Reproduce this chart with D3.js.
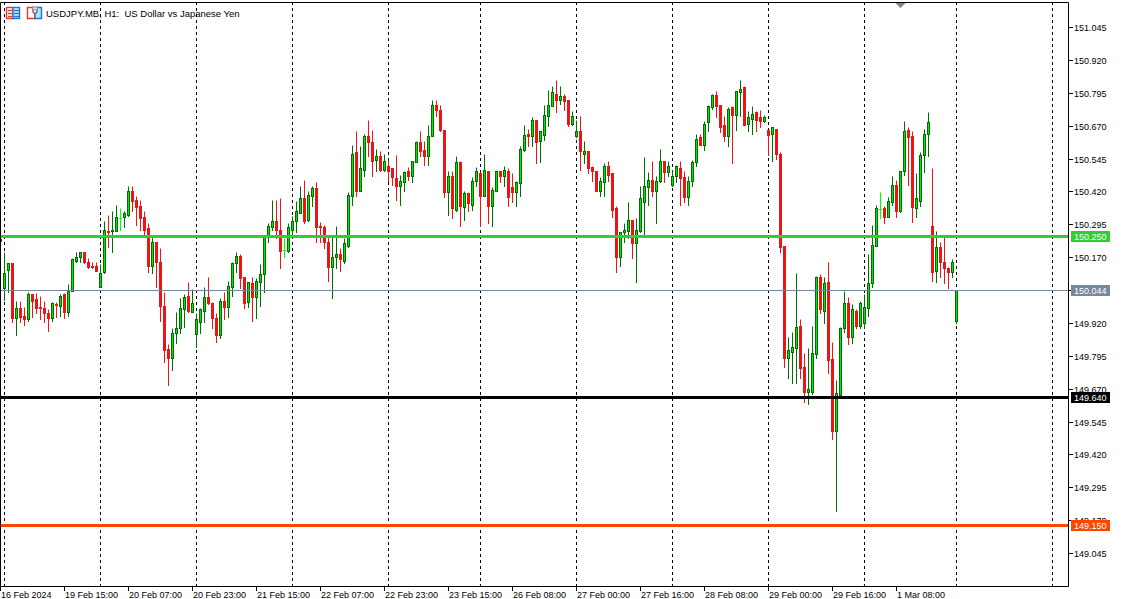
<!DOCTYPE html>
<html>
<head>
<meta charset="utf-8">
<title>USDJPY.MB H1</title>
<script src="https://cdn.jsdelivr.net/npm/d3@7/dist/d3.min.js"></script>
<style>
html, body { margin: 0; padding: 0; background: #fff; overflow: hidden; }
svg { display: block; }
text { font-family: "Liberation Sans", sans-serif; font-size: 9px; fill: #000; white-space: pre; }
text.title { font-size: 9.5px; }
</style>
</head>
<body>
<div id="chart"></div>
<script>
// hourly bars, one every 4px on the chart
const opens = [
150.231,150.051,150.120,150.148,149.938,149.977,149.948,149.933,150.028,150.009,149.982,149.978,
149.956,149.938,149.990,149.986,150.028,149.963,150.043,150.157,150.169,150.191,150.153,150.138,
150.138,150.058,150.115,150.271,150.268,150.271,150.319,150.321,150.332,150.423,150.389,150.363,
150.321,150.279,150.138,150.229,150.153,149.986,149.819,149.785,149.880,149.899,149.971,150.024,
149.963,149.876,149.925,149.967,150.020,149.994,149.940,149.872,150.005,149.982,150.058,150.146,
150.176,150.093,149.998,150.070,150.017,150.077,150.104,150.248,150.286,150.306,150.275,150.198,
150.195,150.275,150.309,150.336,150.393,150.313,150.401,150.431,150.290,150.283,150.229,150.131,
150.169,150.180,150.157,150.214,150.404,150.568,150.423,150.503,150.629,150.606,150.541,150.553,
150.503,150.515,150.507,150.469,150.439,150.454,150.496,150.480,150.530,150.606,150.579,150.553,
150.629,150.747,150.731,150.655,150.416,150.480,150.351,150.530,150.359,150.412,150.370,150.458,
150.488,150.401,150.499,150.366,150.423,150.496,150.477,150.499,150.435,150.416,150.450,150.579,
150.640,150.629,150.690,150.610,150.636,150.705,150.743,150.792,150.766,150.781,150.766,150.678,
150.629,150.651,150.564,150.572,150.511,150.499,150.420,150.454,150.518,150.488,150.355,150.169,
150.264,150.271,150.313,150.222,150.271,150.378,150.435,150.465,150.420,150.458,150.534,150.492,
150.446,150.480,150.507,150.473,150.397,150.461,150.530,150.625,150.598,150.682,150.739,150.788,
150.747,150.671,150.632,150.739,150.712,150.796,150.815,150.678,150.697,150.720,150.701,150.686,
150.655,150.640,150.659,150.564,150.214,149.785,149.811,149.823,149.910,149.754,149.659,149.659,
149.800,150.096,149.967,150.074,149.781,149.507,149.644,149.899,149.997,149.868,149.967,149.910,
149.918,149.978,150.070,150.214,150.354,150.355,150.321,150.381,150.446,150.347,150.496,150.655,
150.629,150.355,150.385,150.560,150.640,150.290,150.119,150.207,150.150,150.127,150.112,149.929
];
const highs = [
150.250,150.190,150.148,150.148,150.005,150.005,149.982,150.039,150.028,150.032,150.024,150.005,
149.971,150.001,150.001,150.028,150.032,150.066,150.165,150.191,150.191,150.191,150.165,150.150,
150.150,150.142,150.306,150.332,150.347,150.370,150.355,150.344,150.439,150.442,150.401,150.389,
150.347,150.298,150.245,150.229,150.203,150.039,149.838,149.902,149.963,150.013,150.028,150.074,
150.047,149.956,149.975,150.058,150.093,149.998,149.956,150.013,150.039,150.081,150.153,150.191,
150.180,150.093,150.077,150.096,150.089,150.142,150.252,150.298,150.389,150.389,150.393,150.241,
150.298,150.326,150.385,150.439,150.465,150.420,150.439,150.454,150.302,150.294,150.248,150.245,
150.290,150.203,150.241,150.416,150.598,150.648,150.594,150.640,150.690,150.655,150.583,150.572,
150.564,150.541,150.510,150.560,150.484,150.496,150.511,150.537,150.610,150.651,150.610,150.674,
150.766,150.769,150.750,150.655,150.496,150.499,150.556,150.537,150.423,150.416,150.473,150.511,
150.492,150.564,150.499,150.435,150.496,150.499,150.518,150.507,150.488,150.458,150.594,150.671,
150.659,150.701,150.690,150.651,150.747,150.807,150.819,150.842,150.819,150.792,150.766,150.724,
150.690,150.705,150.613,150.575,150.518,150.499,150.473,150.526,150.537,150.488,150.363,150.267,
150.298,150.378,150.313,150.317,150.442,150.549,150.492,150.537,150.480,150.583,150.537,150.534,
150.503,150.522,150.534,150.496,150.477,150.541,150.640,150.640,150.686,150.750,150.792,150.800,
150.750,150.705,150.739,150.743,150.800,150.845,150.819,150.724,150.743,150.724,150.728,150.709,
150.655,150.663,150.659,150.568,150.214,149.868,149.887,150.108,149.933,149.807,149.826,149.910,
150.100,150.104,150.096,150.153,149.849,149.701,149.906,150.043,150.017,149.990,149.971,150.005,
150.028,150.180,150.294,150.370,150.416,150.366,150.400,150.480,150.465,150.499,150.689,150.663,
150.648,150.488,150.568,150.659,150.720,150.507,150.271,150.226,150.245,150.131,150.161,150.044
];
const lows = [
150.200,150.006,150.037,149.923,149.873,149.925,149.911,149.929,149.944,149.956,149.933,149.925,
149.891,149.929,149.944,149.948,149.937,149.948,150.043,150.153,150.150,150.146,150.127,150.127,
150.119,150.058,150.108,150.207,150.191,150.271,150.275,150.286,150.325,150.347,150.294,150.275,
150.256,150.112,150.108,150.058,149.929,149.773,149.682,149.739,149.845,149.880,149.906,149.963,
149.963,149.830,149.883,149.925,149.990,149.902,149.849,149.864,149.933,149.944,150.024,150.115,
150.051,149.978,149.982,149.929,149.940,149.986,150.039,150.226,150.275,150.243,150.127,150.172,
150.188,150.256,150.267,150.336,150.298,150.306,150.366,150.229,150.226,150.203,150.081,150.013,
150.127,150.119,150.146,150.207,150.370,150.404,150.423,150.477,150.553,150.477,150.499,150.496,
150.496,150.458,150.446,150.389,150.370,150.420,150.465,150.454,150.530,150.556,150.522,150.522,
150.629,150.705,150.648,150.397,150.332,150.317,150.344,150.290,150.313,150.344,150.351,150.439,
150.290,150.401,150.298,150.287,150.423,150.454,150.439,150.363,150.378,150.363,150.401,150.575,
150.591,150.591,150.526,150.530,150.617,150.667,150.743,150.720,150.754,150.728,150.670,150.674,
150.625,150.503,150.526,150.488,150.461,150.420,150.404,150.404,150.458,150.321,150.115,150.138,
150.226,150.241,150.165,150.074,150.264,150.256,150.370,150.401,150.298,150.454,150.454,150.477,
150.442,150.454,150.370,150.378,150.370,150.442,150.515,150.598,150.579,150.648,150.735,150.701,
150.644,150.610,150.591,150.526,150.655,150.705,150.674,150.648,150.640,150.651,150.663,150.682,
150.560,150.534,150.545,150.191,149.754,149.709,149.693,149.693,149.712,149.621,149.610,149.648,
149.785,149.959,149.921,149.728,149.477,149.203,149.644,149.887,149.838,149.842,149.902,149.902,
149.899,149.948,150.058,150.214,150.317,150.298,150.321,150.370,150.324,150.343,150.484,150.446,
150.302,150.321,150.366,150.492,150.556,150.081,150.074,150.096,150.070,150.051,150.096,149.921
];
const closes = [
150.239,150.108,150.148,149.938,149.977,149.942,149.933,150.028,150.005,149.978,149.975,149.956,
149.938,149.994,149.987,150.024,149.963,150.043,150.161,150.172,150.191,150.150,150.134,150.131,
150.119,150.108,150.275,150.268,150.275,150.321,150.319,150.336,150.423,150.385,150.359,150.317,
150.275,150.138,150.229,150.150,149.986,149.815,149.785,149.880,149.899,149.975,150.020,149.967,
149.994,149.933,149.971,150.017,149.994,149.937,149.872,150.005,149.982,150.062,150.146,150.176,
150.089,149.994,150.074,150.017,150.081,150.104,150.248,150.290,150.309,150.275,150.195,150.198,
150.283,150.306,150.344,150.393,150.309,150.408,150.431,150.286,150.283,150.229,150.131,150.169,
150.180,150.161,150.222,150.408,150.564,150.423,150.507,150.629,150.606,150.537,150.553,150.503,
150.534,150.499,150.473,150.439,150.461,150.492,150.480,150.534,150.606,150.575,150.553,150.632,
150.750,150.728,150.655,150.416,150.477,150.355,150.530,150.363,150.412,150.374,150.461,150.499,
150.404,150.503,150.363,150.427,150.496,150.477,150.503,150.397,150.416,150.454,150.583,150.636,
150.629,150.690,150.606,150.648,150.712,150.750,150.796,150.766,150.781,150.762,150.678,150.708,
150.648,150.572,150.572,150.507,150.496,150.420,150.458,150.518,150.484,150.351,150.169,150.267,
150.275,150.313,150.222,150.275,150.393,150.439,150.465,150.420,150.461,150.534,150.492,150.518,
150.480,150.515,150.469,150.397,150.461,150.530,150.621,150.598,150.678,150.743,150.788,150.743,
150.663,150.629,150.735,150.712,150.800,150.811,150.674,150.701,150.716,150.693,150.686,150.701,
150.636,150.663,150.564,150.210,149.785,149.815,149.830,149.906,149.750,149.659,149.667,149.807,
150.096,149.971,150.070,149.777,149.507,149.652,149.902,149.994,149.868,149.971,149.910,149.997,
149.982,150.070,150.218,150.355,150.354,150.321,150.385,150.446,150.347,150.499,150.651,150.625,
150.359,150.393,150.560,150.640,150.682,150.115,150.207,150.150,150.127,150.112,150.150,150.044
];

const priceTicks = ["151.045","150.920","150.795","150.670","150.545","150.420","150.295","150.170",
  "150.045","149.920","149.795","149.670","149.545","149.420","149.295","149.170","149.045"];
const timeLabels = ["16 Feb 2024","19 Feb 15:00","20 Feb 07:00","20 Feb 23:00","21 Feb 15:00","22 Feb 07:00",
  "22 Feb 23:00","23 Feb 15:00","26 Feb 08:00","27 Feb 00:00","27 Feb 16:00","28 Feb 08:00","29 Feb 00:00",
  "29 Feb 16:00","1 Mar 08:00"];
const timeBars = [0,16,32,48,64,80,96,112,128,144,160,176,192,208,224];
// day separators, friday is a short session so the gap is 23 bars there
const gridBars = [1,25,49,73,97,120,144,168,192,216,239,263];

const levelPrices = [150.250, 150.044, 149.640, 149.150];
const levelColors = ["#32cd32", "#778899", "#000000", "#ff4500"];
const levelWidths = [3, 1, 3, 3];

const width = 1122, height = 599;
const plotLeft = 0, plotRight = 1068, plotTop = 2, plotBottom = 586;

const x = d3.scaleLinear().domain([0, 239]).range([0.5, 956.5]);
const y = d3.scaleLinear().domain([149.045, 151.045]).range([553.5, 27.5]);
const py = v => Math.round(y(v) - 0.5) + 0.5;

const svg = d3.select("#chart").append("svg")
  .attr("width", width).attr("height", height);

svg.append("defs").append("clipPath").attr("id", "plot")
  .append("rect").attr("x", plotLeft).attr("y", plotTop)
  .attr("width", plotRight - plotLeft).attr("height", plotBottom - plotTop);

const plot = svg.append("g").attr("clip-path", "url(#plot)");

// grid
plot.selectAll("line.grid").data(gridBars).enter().append("line")
  .attr("class", "grid")
  .attr("x1", d => x(d)).attr("x2", d => x(d))
  .attr("y1", plotTop).attr("y2", plotBottom)
  .attr("stroke", "#000").attr("stroke-dasharray", "3,3");

// candles
const bars = d3.range(opens.length).map(i => ({
  i, open: opens[i], high: highs[i], low: lows[i], close: closes[i]
}));
const upDark = "#006e00", upFill = "#00e600", downCol = "#ee1414", dojiCol = "#00ff00";
const edge = d => d.open === d.close ? dojiCol : d.close > d.open ? upDark : downCol;

const candles = plot.selectAll("g.candle").data(bars).enter().append("g").attr("class", "candle");

candles.append("line")
  .attr("x1", d => x(d.i)).attr("x2", d => x(d.i))
  .attr("y1", d => py(d.high)).attr("y2", d => py(d.low) + 0.5)
  .attr("stroke", edge);

candles.filter(d => d.open !== d.close).append("rect")
  .attr("x", d => x(d.i) - 1)
  .attr("width", 2)
  .attr("y", d => py(Math.max(d.open, d.close)))
  .attr("height", d => Math.max(1, py(Math.min(d.open, d.close)) - py(Math.max(d.open, d.close))))
  .attr("fill", d => d.close > d.open ? upFill : downCol)
  .attr("stroke", edge);

candles.filter(d => d.open === d.close).append("line")
  .attr("x1", d => x(d.i) - 1.5).attr("x2", d => x(d.i) + 1.5)
  .attr("y1", d => py(d.open)).attr("y2", d => py(d.open))
  .attr("stroke", dojiCol);

// horizontal levels
plot.selectAll("line.level").data(levelPrices).enter().append("line")
  .attr("class", "level")
  .attr("x1", plotLeft).attr("x2", plotRight)
  .attr("y1", d => py(d)).attr("y2", d => py(d))
  .attr("stroke", (d, i) => levelColors[i])
  .attr("stroke-width", (d, i) => levelWidths[i]);

// frame
svg.append("path")
  .attr("d", `M${plotLeft + 0.5},${plotBottom + 0.5}V${plotTop + 0.5}H${plotRight + 0.5}V${plotBottom + 0.5}H${plotLeft + 0.5}`)
  .attr("fill", "none").attr("stroke", "#000");

// little marker on the top edge
const markerX = x(225);
svg.append("path")
  .attr("d", `M${markerX - 5},3H${markerX + 5}L${markerX},8Z`)
  .attr("fill", "#778899");

// price axis
const priceAxis = svg.append("g").selectAll("g").data(priceTicks).enter().append("g")
  .attr("transform", d => `translate(${plotRight},${py(+d)})`);
priceAxis.append("line").attr("x1", 1).attr("x2", 5).attr("stroke", "#000");
priceAxis.append("text").attr("x", 6).attr("y", 3).text(d => d);

// time axis
const timeAxis = svg.append("g").selectAll("g").data(timeLabels).enter().append("g")
  .attr("transform", (d, i) => `translate(${x(timeBars[i])},${plotBottom})`);
timeAxis.append("line").attr("y1", 1).attr("y2", 5).attr("stroke", "#000");
timeAxis.append("text").attr("x", 0.5).attr("y", 12).text(d => d);

// price tags for the levels, they sit over the axis labels like in the terminal
const tags = svg.append("g").selectAll("g").data(levelPrices).enter().append("g")
  .attr("transform", d => `translate(1071,${py(d)})`);
tags.append("rect").attr("x", 0).attr("y", -5.5).attr("width", 39).attr("height", 11)
  .attr("fill", (d, i) => levelColors[i]);
tags.append("text").attr("x", 3).attr("y", 3).style("fill", "#fff").text(d => d.toFixed(3));

// symbol header with the two toolbar icons
const red = "#e8342c", blue = "#1f78c8";
const head = svg.append("g").attr("stroke-width", 1.4);
head.append("rect").attr("x", 6.5).attr("y", 7.5).attr("width", 6.5).attr("height", 11)
  .attr("fill", "#fff").attr("stroke", red);
head.append("rect").attr("x", 13).attr("y", 7.5).attr("width", 6.5).attr("height", 11)
  .attr("fill", "#d6ebfb").attr("stroke", blue);
[10.5, 13.5, 16.5].forEach(v => {
  head.append("line").attr("x1", 8).attr("x2", 12).attr("y1", v).attr("y2", v).attr("stroke", red);
  head.append("line").attr("x1", 14).attr("x2", 19).attr("y1", v).attr("y2", v).attr("stroke", blue);
});
head.append("path").attr("d", "M27.5,7.5H33V12L35,14V18.5H27.5Z")
  .attr("fill", "#fff").attr("stroke", red);
head.append("path").attr("d", "M35,14L37,12V7.5H41.5V18.5H35Z")
  .attr("fill", "#bfe0fa").attr("stroke", blue);
head.append("rect").attr("x", 32.5).attr("y", 7).attr("width", 5).attr("height", 3)
  .attr("fill", "#ddd").attr("stroke", "#888").attr("stroke-width", 1);
head.append("text").attr("class", "title").attr("x", 46).attr("y", 17)
  .text("USDJPY.MB, H1:  US Dollar vs Japanese Yen");
</script>
</body>
</html>
